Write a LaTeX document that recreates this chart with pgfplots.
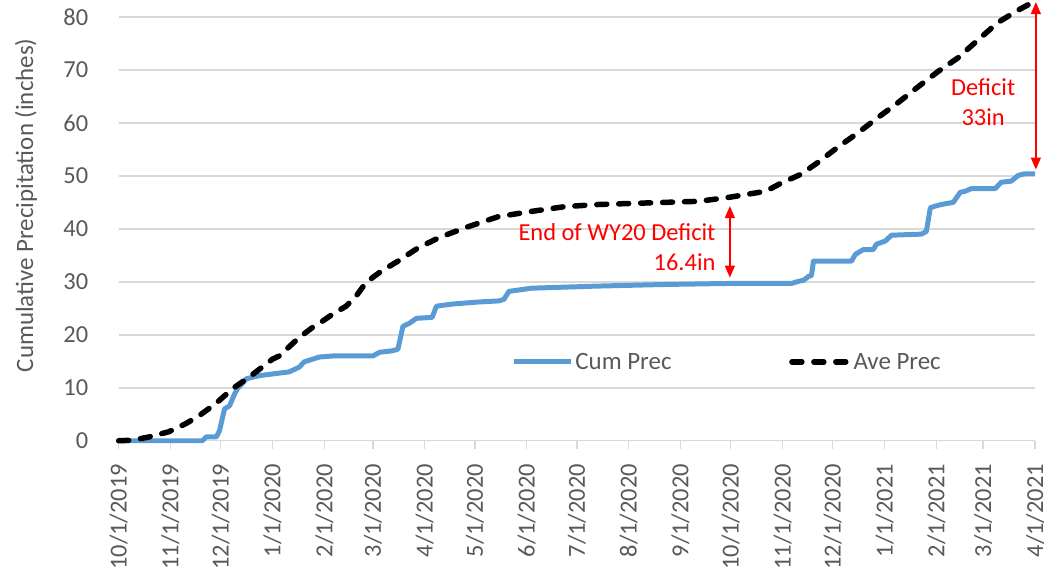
\documentclass[border=0pt]{standalone}
\usepackage{pgfplots}
\pgfplotsset{compat=1.18}
\usepackage{fontspec}
\setmainfont{Carlito}
\usetikzlibrary{arrows.meta}
\definecolor{txtgray}{HTML}{595959}
\definecolor{gridgray}{HTML}{D9D9D9}
\definecolor{cumblue}{HTML}{5B9BD5}
\begin{document}
\begin{tikzpicture}
\begin{axis}[
  at={(0pt,0pt)}, anchor=south west,
  scale only axis, width=919pt, height=442pt,
  xmin=0, xmax=548, ymin=0, ymax=83.2,
  clip=false,
  axis x line*=bottom, axis y line*=left,
  y axis line style={draw=none},
  x axis line style={draw=gridgray, line width=1.5pt},
  xtick={0,31,61,92,123,152,183,213,244,274,305,336,366,397,427,458,489,517,548},
  xticklabels={10/1/2019,11/1/2019,12/1/2019,1/1/2020,2/1/2020,3/1/2020,4/1/2020,5/1/2020,6/1/2020,7/1/2020,8/1/2020,9/1/2020,10/1/2020,11/1/2020,12/1/2020,1/1/2021,2/1/2021,3/1/2021,4/1/2021},
  ytick={0,10,...,80},
  ymajorgrids, grid style={draw=gridgray, line width=1.5pt},
  tick align=outside,
  major tick length=8pt,
  xtick style={draw=gridgray, line width=1.5pt},
  ytick style={draw=none},
  /pgf/number format/assume math mode=true,
  every tick label/.append style={font=\fontsize{24.5}{29}\selectfont, text=txtgray},
  xticklabel style={rotate=90, anchor=east},
  xticklabel shift=12pt,
  yticklabel shift=19pt,
  ylabel={Cumulative Precipitation (inches)},
  ylabel style={at={(axis description cs:-0.101,0.534)}, anchor=center, font=\fontsize{25}{30}\selectfont, text=txtgray},
  legend style={at={(axis description cs:0.664,0.179)}, anchor=center, draw=none, fill=none,
    font=\fontsize{25}{30}\selectfont, text=txtgray,
    /tikz/every even column/.append style={column sep=116pt}},
  legend columns=2,
  legend image code/.code={\draw[#1] (0pt,0pt) -- (57pt,0pt);},
]
\addplot[cumblue, line width=5pt, line join=round] coordinates {
(0,0) (50.1,0) (52.5,0.75) (58.5,0.75) (60.3,1.9) (63.3,6.0) (66.3,6.6) (69.3,8.8) (71,9.8)
(76.4,11.7) (84.2,12.3) (102,13.0) (108,13.9) (111,14.9) (120,15.8) (128,16.0) (152,16.0)
(156,16.7) (164,17.0) (167,17.3) (170,21.6) (174,22.2) (178,23.1) (187.5,23.3) (190,25.4)
(199.4,25.8) (215.5,26.2) (227.5,26.4) (230.4,26.7) (233.4,28.2) (247,28.8) (287,29.2)
(327,29.5) (366.6,29.7) (402.4,29.7) (406.6,30.1) (409.6,30.3) (412.5,31.0) (414.3,31.2)
(415.5,33.9) (438.2,33.9) (440.6,35.2) (445.4,36.1) (451.3,36.1) (453.1,37.1) (458.5,37.7)
(462.1,38.8) (480,39.0) (483,39.5) (485.4,44.0) (488.4,44.3) (492,44.6) (499.1,45.0)
(503.3,46.9) (506.3,47.1) (509.9,47.6) (524.2,47.6) (527.8,48.8) (533.7,49.0) (538,50.1)
(542,50.4) (548,50.4)
};
\addlegendentry{Cum Prec}
\addplot[black, line width=5.5pt, line cap=round, dash pattern=on 10pt off 12pt] coordinates {
(0,0) (8,0.1) (18,0.7) (30,1.7) (40,3.2) (48,4.7) (58,7.0) (68,9.8) (78,12.0) (92,15.4)
(96,16.0) (108,19.5) (116,21.4) (122,22.6) (128,23.9) (136,25.4) (142,27.3) (148,29.9)
(157,32.0) (167,33.9) (179,36.4) (192,38.4) (208,40.3) (227,42.3) (247,43.3) (267,44.2)
(287,44.6) (307,44.8) (327,45.0) (347,45.2) (366,46.0) (387,47.1) (396,48.6) (408,50.3)
(418,52.5) (430,55.4) (442,58.1) (454,61.0) (466,63.8) (478,66.8) (490,69.7) (502,72.3)
(514,75.7) (526,79.0) (538,81.3) (548,83.0)
};
\addlegendentry{Ave Prec}
\draw[red, line width=1.3pt, {Triangle[width=10pt,length=12pt]}-{Triangle[width=10pt,length=12pt]}] (axis cs:548.5,82.8) -- (axis cs:548.5,51.2);
\draw[red, line width=1.3pt, {Triangle[width=10pt,length=12pt]}-{Triangle[width=10pt,length=12pt]}] (axis cs:365.5,44.3) -- (axis cs:365.5,30.8);
\node[red, anchor=east, align=right, inner sep=0pt, font=\fontsize{24.5}{30.5}\selectfont] at (axis cs:357,36.5) {End of WY20 Deficit\\16.4in};
\node[red, align=center, inner sep=0pt, font=\fontsize{24.5}{30.5}\selectfont] at (axis cs:517,63.9) {Deficit\\33in};
\end{axis}
\pgfresetboundingbox
\path[use as bounding box] (-119pt,-140pt) rectangle (932pt,442pt);
\end{tikzpicture}
\end{document}
